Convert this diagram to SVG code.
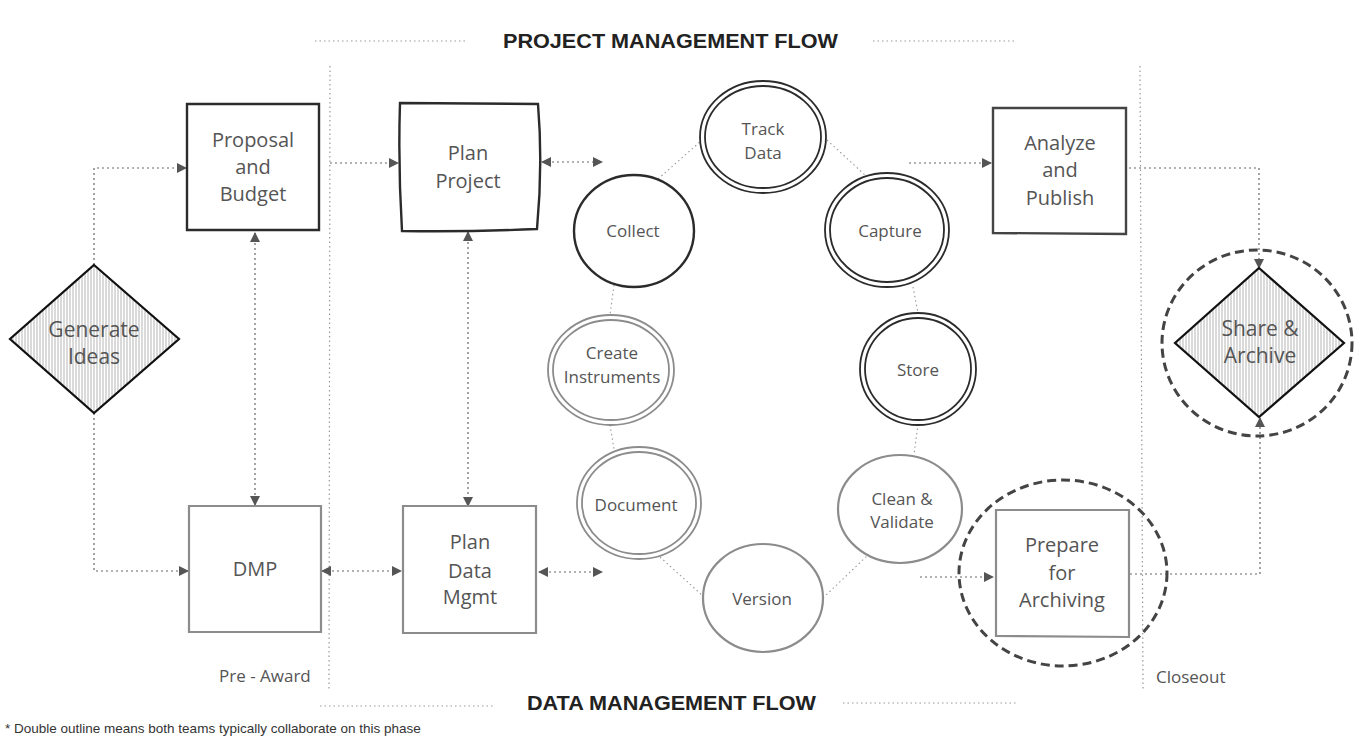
<svg xmlns="http://www.w3.org/2000/svg" width="1359" height="747" viewBox="0 0 1359 747">
<style>
.dark{fill:#fff;stroke:#2b2b2b;stroke-width:2.4}
.mid{fill:#fff;stroke:#444;stroke-width:2.4}
.gray{fill:#fff;stroke:#8c8c8c;stroke-width:2.2}
.dd{fill:none;stroke:#2b2b2b;stroke-width:1.8}
.gd{fill:none;stroke:#8c8c8c;stroke-width:1.8}
.ring{fill:none;stroke:#444;stroke-width:3;stroke-dasharray:9 5}
.hatch{fill:url(#hatch);stroke:#111;stroke-width:2.2}
.t{font-family:"Open Sans","Liberation Sans",sans-serif;fill:#555;text-anchor:middle}
.b{font-size:20px}
.c{font-size:17px}
.title{font-family:"Liberation Sans",sans-serif;font-weight:bold;fill:#222;font-size:21px}
.sep{stroke:#999;stroke-width:1.2;stroke-dasharray:1.5 3;fill:none}
.arr{stroke:#666;stroke-width:1.2;stroke-dasharray:2 3;fill:none}
.lnk{stroke:#999;stroke-width:1.1;stroke-dasharray:1.5 3;fill:none}
.lbl{font-family:"Open Sans","Liberation Sans",sans-serif;fill:#555;font-size:17px}
</style>
<defs>
<pattern id="hatch" width="3" height="10" patternUnits="userSpaceOnUse">
<rect width="3" height="10" fill="#fff"/>
<line x1="1" y1="0" x2="1" y2="10" stroke="#b5b5b5" stroke-width="1"/>
</pattern>
<marker id="ah" markerWidth="10" markerHeight="10" refX="9" refY="5" orient="auto" markerUnits="userSpaceOnUse">
<path d="M0,0 L10,5 L0,10 Z" fill="#555"/>
</marker>
<marker id="as" markerWidth="10" markerHeight="10" refX="1" refY="5" orient="auto" markerUnits="userSpaceOnUse">
<path d="M10,0 L0,5 L10,10 Z" fill="#555"/>
</marker>
</defs>
<rect width="1359" height="747" fill="#fff"/>

<g id="separators">
<line class="sep" x1="315" y1="41" x2="467" y2="41"/>
<line class="sep" x1="873" y1="41" x2="1017" y2="41"/>
<line class="sep" x1="320" y1="706" x2="493" y2="706"/>
<line class="sep" x1="843" y1="703" x2="1016" y2="703"/>
<line class="sep" x1="330" y1="66" x2="329" y2="690"/>
<line class="sep" x1="1140" y1="66" x2="1143" y2="690"/>
</g>

<g id="titles">
<text class="title" x="503" y="48" textLength="335" lengthAdjust="spacingAndGlyphs">PROJECT  MANAGEMENT FLOW</text>
<text class="title" x="527" y="710" textLength="289" lengthAdjust="spacingAndGlyphs">DATA MANAGEMENT FLOW</text>
<text class="lbl" x="219" y="682">Pre - Award</text>
<text class="lbl" x="1156" y="683">Closeout</text>
<text x="5" y="733" font-family="Liberation Sans, Arial, sans-serif" font-size="13.5" fill="#333">* Double outline means both teams typically collaborate on this phase</text>
</g>

<g id="connectors">
<polyline class="arr" points="94,265 94,168 186,168" marker-end="url(#ah)"/>
<polyline class="arr" points="94,413 94,571 188,571" marker-end="url(#ah)"/>
<line class="arr" x1="255" y1="233" x2="255" y2="505" marker-start="url(#as)" marker-end="url(#ah)"/>
<line class="arr" x1="330" y1="163" x2="398" y2="163" marker-end="url(#ah)"/>
<line class="arr" x1="542" y1="162" x2="602" y2="162" marker-start="url(#as)" marker-end="url(#ah)"/>
<line class="arr" x1="468" y1="232" x2="468" y2="506" marker-start="url(#as)" marker-end="url(#ah)"/>
<line class="arr" x1="322" y1="571" x2="401" y2="571" marker-start="url(#as)" marker-end="url(#ah)"/>
<line class="arr" x1="539" y1="572" x2="602" y2="572" marker-start="url(#as)" marker-end="url(#ah)"/>
<line class="arr" x1="909" y1="163" x2="991" y2="163" marker-end="url(#ah)"/>
<polyline class="arr" points="1124,168 1259,168 1259,268" marker-end="url(#ah)"/>
<line class="arr" x1="920" y1="577" x2="993" y2="577" marker-end="url(#ah)"/>
<polyline class="arr" points="1130,574 1260,574 1260,418" marker-end="url(#ah)"/>
<line class="lnk" x1="658" y1="179" x2="701" y2="141"/>
<line class="lnk" x1="827" y1="140" x2="866" y2="176"/>
<line class="lnk" x1="614" y1="285" x2="610" y2="315"/>
<line class="lnk" x1="913" y1="287" x2="918" y2="313"/>
<line class="lnk" x1="610" y1="425" x2="614" y2="449"/>
<line class="lnk" x1="918" y1="424" x2="914" y2="455"/>
<line class="lnk" x1="660" y1="557" x2="703" y2="596"/>
<line class="lnk" x1="823" y1="598" x2="868" y2="555"/>
</g>

<g id="generate-ideas">
<path class="hatch" d="M94,265 L179,339 L94,413 L10,339 Z"/>
<text class="t" x="94" y="337" font-size="21">Generate</text>
<text class="t" x="94" y="364" font-size="21">Ideas</text>
</g>

<g id="proposal-budget">
<path class="dark" d="M187,104 L319,104 L319,230 L187,230 Z"/>
<text class="t b" x="253" y="147">Proposal</text>
<text class="t b" x="253" y="174">and</text>
<text class="t b" x="253" y="201">Budget</text>
</g>

<g id="plan-project">
<path class="dark" d="M400,103 L538,104 Q543,165 537,229 Q470,232 402,231 Q398,165 400,103 Z"/>
<text class="t b" x="468" y="160">Plan</text>
<text class="t b" x="468" y="188">Project</text>
</g>

<g id="analyze-publish">
<path class="mid" d="M993,108 L1126,108 L1126,234 L993,233 Z"/>
<text class="t b" x="1060" y="150">Analyze</text>
<text class="t b" x="1060" y="177">and</text>
<text class="t b" x="1060" y="205">Publish</text>
</g>

<g id="dmp">
<path class="gray" d="M189,506 L321,506 L321,632 L189,632 Z"/>
<text class="t b" x="255" y="576">DMP</text>
</g>

<g id="plan-data-mgmt">
<path class="gray" d="M403,506 L536,506 L536,633 L403,633 Z"/>
<text class="t b" x="470" y="549">Plan</text>
<text class="t b" x="470" y="578">Data</text>
<text class="t b" x="470" y="604">Mgmt</text>
</g>

<g id="prepare-archiving">
<ellipse class="ring" cx="1063" cy="573" rx="104" ry="93"/>
<path class="gray" d="M996,510 L1129,510 L1129,637 L996,636 Z"/>
<text class="t b" x="1062" y="552">Prepare</text>
<text class="t b" x="1062" y="580">for</text>
<text class="t b" x="1062" y="607">Archiving</text>
</g>

<g id="share-archive">
<ellipse class="ring" cx="1257" cy="343" rx="95" ry="93"/>
<path class="hatch" d="M1259,268 L1344,343 L1259,417 L1175,343 Z"/>
<text class="t" x="1260" y="336" font-size="21">Share &amp;</text>
<text class="t" x="1260" y="363" font-size="21">Archive</text>
</g>

<g id="track-data">
<ellipse class="dd" cx="763" cy="137" rx="63" ry="56"/>
<ellipse class="dd" cx="763" cy="137" rx="58" ry="51"/>
<text class="t c" x="763" y="135">Track</text>
<text class="t c" x="763" y="159">Data</text>
</g>

<g id="collect">
<ellipse class="dark" cx="634" cy="231" rx="60" ry="56"/>
<text class="t c" x="633" y="237">Collect</text>
</g>

<g id="capture">
<ellipse class="dd" cx="887" cy="230" rx="62" ry="57"/>
<ellipse class="dd" cx="887" cy="230" rx="57" ry="52"/>
<text class="t c" x="890" y="237">Capture</text>
</g>

<g id="create-instruments">
<ellipse class="gd" cx="611" cy="370" rx="63" ry="55"/>
<ellipse class="gd" cx="611" cy="370" rx="58" ry="50"/>
<text class="t c" x="612" y="359" fill="#444">Create</text>
<text class="t c" x="612" y="383" fill="#444">Instruments</text>
</g>

<g id="store">
<ellipse class="dd" cx="918" cy="369" rx="58" ry="56"/>
<ellipse class="dd" cx="918" cy="369" rx="53" ry="51"/>
<text class="t c" x="918" y="376">Store</text>
</g>

<g id="document">
<ellipse class="gd" cx="639" cy="503" rx="62" ry="56"/>
<ellipse class="gd" cx="639" cy="503" rx="57" ry="51"/>
<text class="t c" x="636" y="511">Document</text>
</g>

<g id="clean-validate">
<ellipse class="gray" cx="900" cy="509" rx="62" ry="54"/>
<text class="t c" x="902" y="505">Clean &amp;</text>
<text class="t c" x="902" y="528">Validate</text>
</g>

<g id="version">
<ellipse class="gray" cx="763" cy="598" rx="60" ry="54"/>
<text class="t c" x="762" y="605">Version</text>
</g>
</svg>
